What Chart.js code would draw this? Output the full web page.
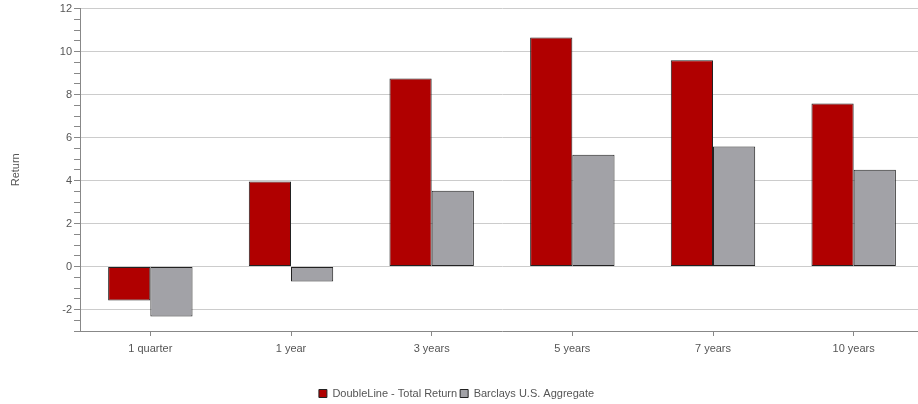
<!DOCTYPE html>
<html><head><meta charset="utf-8">
<script src="https://cdn.jsdelivr.net/npm/chart.js@4/dist/chart.umd.min.js"></script>
<style>html,body{margin:0;padding:0;background:#fff;overflow:hidden}#clip{width:918px;height:404px;position:relative;overflow:hidden}#wrap{position:absolute;left:-11px;top:0;width:935px;height:404px}</style>
</head><body><div id="clip"><div id="wrap"><canvas id="c"></canvas></div></div>
<script>
const categories = ["1 quarter","1 year","3 years","5 years","7 years","10 years"];
const doubleLine = [-1.58, 3.95, 8.75, 10.66, 9.6, 7.58];
const barclays = [-2.33, -0.7, 3.52, 5.2, 5.58, 4.5];
const seriesNames = ["DoubleLine - Total Return","Barclays U.S. Aggregate"];
const yMin = -3, yMax = 12, yStep = 0.5, yLabelEvery = 2;

const FONT = "'Liberation Sans', Arial, sans-serif";
new Chart(document.getElementById('c'), {
  type: 'bar',
  data: {
    labels: categories,
    datasets: [
      {label: seriesNames[0], data: doubleLine, backgroundColor: '#b00000', borderColor: '#222', borderWidth: 1, borderSkipped: false, categoryPercentage: 0.6, barPercentage: 1},
      {label: seriesNames[1], data: barclays, backgroundColor: '#a2a2a7', borderColor: '#222', borderWidth: 1, borderSkipped: false, categoryPercentage: 0.6, barPercentage: 1}
    ]
  },
  options: {
    responsive: true, maintainAspectRatio: false, animation: false,
    layout: {padding: {top: 7, right: 0, left: 0, bottom: -5}},
    plugins: {
      tooltip: {enabled: false},
      legend: {position: 'bottom', labels: {boxWidth: 8, boxHeight: 8, padding: 3, color: '#555', font: {family: FONT, size: 11}}}
    },
    scales: {
      x: {
        grid: {drawOnChartArea: false, offset: false, tickLength: 5, color: '#888'},
        border: {color: '#888'},
        ticks: {color: '#555', font: {family: FONT, size: 11}, padding: 6},
        afterFit: s => { s.height = 54; }
      },
      y: {
        min: yMin, max: yMax,
        afterFit: s => { s.width = 91; },
        title: {display: true, text: 'Return', color: '#555', font: {family: FONT, size: 11}, padding: {top: 20, bottom: 0}},
        border: {color: '#888'},
        grid: {
          tickLength: 6,
          color: ctx => (ctx.tick && ctx.tick.value % yLabelEvery === 0) ? '#cccccc' : 'rgba(0,0,0,0)',
          tickColor: '#888'
        },
        ticks: {
          stepSize: yStep, autoSkip: false, color: '#555', font: {family: FONT, size: 11}, padding: 2,
          callback: v => (v % yLabelEvery === 0) ? String(v) : ''
        }
      }
    }
  }
});
</script></body></html>
